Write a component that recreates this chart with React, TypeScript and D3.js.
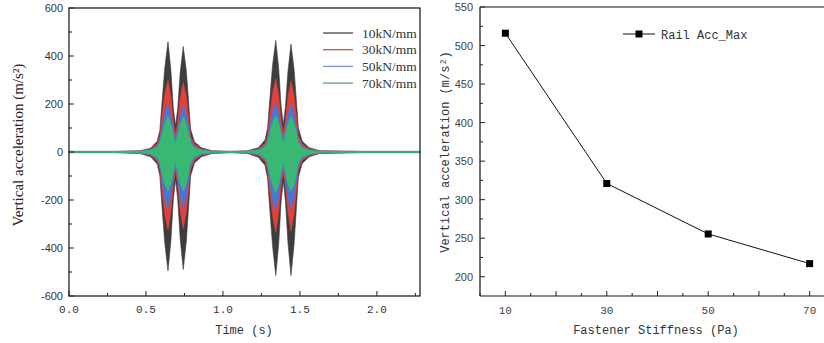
import * as d3 from 'd3'

// time grid (s) shared by all envelope series of the left panel
const T = [0, 0.30, 0.46, 0.53, 0.573, 0.59, 0.602, 0.622, 0.643, 0.662, 0.678, 0.692, 0.706, 0.722, 0.742, 0.762, 0.778, 0.79, 0.815, 0.86, 0.93, 1.05, 1.16, 1.23, 1.273, 1.29, 1.302, 1.322, 1.343, 1.362, 1.378, 1.392, 1.406, 1.422, 1.442, 1.462, 1.478, 1.49, 1.515, 1.56, 1.63, 1.90, 2.28]

// upper / lower envelopes of the rail acceleration (m/s²)
const k10Hi = [3, 3, 5, 16, 45, 90, 190, 350, 460, 340, 180, 110, 180, 330, 440, 340, 200, 95, 42, 18, 5, 3, 5, 18, 50, 100, 200, 360, 465, 350, 190, 115, 190, 335, 450, 345, 205, 100, 45, 18, 5, 3, 3]
const k10Lo = [-3, -3, -6, -20, -50, -100, -210, -380, -495, -370, -195, -115, -195, -360, -490, -375, -220, -100, -46, -20, -6, -3, -6, -22, -55, -110, -220, -390, -515, -385, -205, -120, -205, -375, -515, -385, -225, -105, -48, -20, -6, -3, -3]
const k30Hi = [2, 2, 4, 12, 34, 65, 135, 240, 300, 230, 125, 70, 125, 225, 290, 230, 135, 65, 32, 13, 4, 2, 4, 13, 36, 70, 140, 245, 305, 235, 130, 75, 130, 230, 295, 235, 140, 68, 33, 13, 4, 2, 2]
const k30Lo = [-2, -2, -5, -14, -38, -72, -150, -260, -325, -250, -135, -75, -135, -245, -320, -250, -150, -72, -35, -14, -5, -2, -5, -15, -40, -75, -155, -265, -335, -255, -140, -80, -140, -250, -330, -255, -155, -74, -36, -15, -5, -2, -2]
const k50Hi = [2, 2, 3, 9, 25, 48, 95, 160, 200, 155, 90, 50, 90, 150, 195, 155, 95, 48, 23, 9, 3, 2, 3, 10, 27, 50, 100, 165, 205, 160, 92, 54, 92, 155, 198, 158, 98, 50, 24, 10, 3, 2, 2]
const k50Lo = [-2, -2, -3, -11, -29, -55, -112, -195, -240, -185, -105, -58, -105, -185, -235, -188, -112, -55, -27, -11, -3, -2, -3, -11, -30, -57, -115, -200, -245, -190, -108, -60, -108, -190, -240, -190, -115, -57, -28, -11, -3, -2, -2]
const k70Hi = [2, 2, 3, 7, 20, 38, 72, 118, 150, 118, 72, 35, 72, 115, 148, 118, 74, 38, 18, 7, 3, 2, 3, 7, 21, 40, 75, 122, 152, 122, 75, 38, 75, 118, 150, 120, 76, 39, 19, 7, 3, 2, 2]
const k70Lo = [-2, -2, -3, -8, -23, -44, -84, -133, -165, -133, -82, -40, -82, -130, -162, -133, -84, -44, -20, -8, -3, -2, -3, -8, -24, -46, -87, -138, -170, -138, -85, -42, -85, -133, -165, -135, -86, -45, -21, -8, -3, -2, -2]

const seriesNames = ['10kN/mm', '30kN/mm', '50kN/mm', '70kN/mm']
const seriesColors = ['#3d3d3d', '#e2403a', '#4876d6', '#38b872']
const legendColors = ['#4a4a4a', '#d9504a', '#7394cf', '#5aa57a']

// right panel
const stiffness = [10, 30, 50, 70]
const railAccMax = [516, 321, 255.5, 217]

const SERIF = '"Liberation Serif", "DejaVu Serif", serif'
const SANS = '"Liberation Sans", Arial, sans-serif'
const MONO = '"Liberation Mono", "DejaVu Sans Mono", monospace'

const L = { x0: 69, x1: 420, y0: 8, y1: 296 }
const R = { x0: 480, x1: 835, y0: 7, y1: 296 }

export default function App() {
  const xL = d3.scaleLinear().domain([0, 2.28]).range([L.x0, L.x1])
  const yL = d3.scaleLinear().domain([-600, 600]).range([L.y1, L.y0])
  const xR = d3.scaleLinear().domain([5, 75]).range([R.x0, R.x1])
  const yR = d3.scaleLinear().domain([175, 550]).range([R.y1, R.y0])

  const envelopes = [[k10Hi, k10Lo], [k30Hi, k30Lo], [k50Hi, k50Lo], [k70Hi, k70Lo]]
  // filled band between the lower and upper envelope of one series
  const band = (hi: number[], lo: number[]) =>
    d3.area<number>().x((_, i) => xL(T[i])).y0((_, i) => yL(lo[i])).y1((_, i) => yL(hi[i]))(hi) || ''

  const pts = stiffness.map((s, i) => [xR(s), yR(railAccMax[i])] as [number, number])
  const line = d3.line()(pts) || ''

  const yLMajor = d3.range(-600, 601, 200)
  const yLMinor = d3.range(-500, 600, 200)
  const xLMajor = [0, 0.5, 1.0, 1.5, 2.0]
  const xLMinor = [0.25, 0.75, 1.25, 1.75, 2.25]
  const yRMajor = d3.range(200, 551, 50)
  const yRMinor = d3.range(225, 550, 50)
  const xRMajor = d3.range(10, 71, 10)
  const xRMinor = d3.range(5, 75, 10)
  const xRLabels = [10, 30, 50, 70]

  const tick = '#222'
  return (
    <svg width={824} height={343} style={{ position: 'absolute', left: 0, top: 0, background: '#fff' }}>
      {/* left panel */}
      <g>
        {envelopes.map(([hi, lo], i) => (
          <path key={i} d={band(hi, lo)} fill={seriesColors[i]} stroke={seriesColors[i]} strokeWidth={0.6} />
        ))}
        <rect x={L.x0} y={L.y0} width={L.x1 - L.x0} height={L.y1 - L.y0} fill="none" stroke="#111" strokeWidth={1.2} />
        {yLMajor.map((v) => (
          <g key={v}>
            <line x1={L.x0} x2={L.x0 + 5} y1={yL(v)} y2={yL(v)} stroke={tick} />
            <text x={L.x0 - 6} y={yL(v) + 4} textAnchor="end" fontFamily={SANS} fontSize={11} fill="#333">{v}</text>
          </g>
        ))}
        {yLMinor.map((v) => <line key={v} x1={L.x0} x2={L.x0 + 3} y1={yL(v)} y2={yL(v)} stroke={tick} />)}
        {xLMajor.map((v) => (
          <g key={v}>
            <line x1={xL(v)} x2={xL(v)} y1={L.y1} y2={L.y1 - 5} stroke={tick} />
            <text x={xL(v)} y={313} textAnchor="middle" fontFamily={MONO} fontSize={11} fill="#333">{v.toFixed(1)}</text>
          </g>
        ))}
        {xLMinor.map((v) => <line key={v} x1={xL(v)} x2={xL(v)} y1={L.y1} y2={L.y1 - 3} stroke={tick} />)}
        <text transform="translate(23,145) rotate(-90)" textAnchor="middle" fontFamily={SERIF} fontSize={15} fill="#222">Vertical acceleration (m/s²)</text>
        <text x={244} y={334} textAnchor="middle" fontFamily={MONO} fontSize={12} fill="#333">Time (s)</text>
        {seriesNames.map((n, i) => (
          <g key={n}>
            <line x1={323} x2={353} y1={33 + i * 16.7} y2={33 + i * 16.7} stroke={legendColors[i]} strokeWidth={1.3} />
            <text x={362} y={37.5 + i * 16.7} fontFamily={SERIF} fontSize={13.5} fill="#333">{n}</text>
          </g>
        ))}
      </g>

      {/* right panel */}
      <g>
        <line x1={R.x0} x2={824} y1={R.y0} y2={R.y0} stroke="#111" strokeWidth={1.2} />
        <line x1={R.x0} x2={R.x0} y1={R.y0} y2={R.y1} stroke="#111" strokeWidth={1.2} />
        <line x1={R.x0} x2={824} y1={R.y1} y2={R.y1} stroke="#111" strokeWidth={1.2} />
        {yRMajor.map((v) => (
          <g key={v}>
            <line x1={R.x0} x2={R.x0 + 5} y1={yR(v)} y2={yR(v)} stroke={tick} />
            <text x={R.x0 - 7} y={yR(v) + 4} textAnchor="end" fontFamily={SANS} fontSize={11} fill="#444">{v}</text>
          </g>
        ))}
        {yRMinor.map((v) => <line key={v} x1={R.x0} x2={R.x0 + 3} y1={yR(v)} y2={yR(v)} stroke={tick} />)}
        {xRMajor.map((v) => <line key={v} x1={xR(v)} x2={xR(v)} y1={R.y1} y2={R.y1 - 5} stroke={tick} />)}
        {xRMinor.map((v) => <line key={v} x1={xR(v)} x2={xR(v)} y1={R.y1} y2={R.y1 - 3} stroke={tick} />)}
        {xRLabels.map((v) => (
          <text key={v} x={xR(v)} y={314} textAnchor="middle" fontFamily={MONO} fontSize={11} fill="#444">{v}</text>
        ))}
        <path d={line} fill="none" stroke="#111" strokeWidth={1} />
        {pts.map(([x, y], i) => <rect key={i} x={x - 3.5} y={y - 3.5} width={7} height={7} fill="#000" />)}
        <line x1={623} x2={655} y1={34} y2={34} stroke="#111" strokeWidth={1} />
        <rect x={635.5} y={30.5} width={7} height={7} fill="#000" />
        <text x={661} y={38.5} fontFamily={MONO} fontSize={12} fill="#333">Rail Acc_Max</text>
        <text transform="translate(449,152) rotate(-90)" textAnchor="middle" fontFamily={MONO} fontSize={12} fill="#333">Vertical acceleration (m/s²)</text>
        <text x={656} y={334} textAnchor="middle" fontFamily={MONO} fontSize={12} fill="#333">Fastener Stiffness (Pa)</text>
      </g>
    </svg>
  )
}
